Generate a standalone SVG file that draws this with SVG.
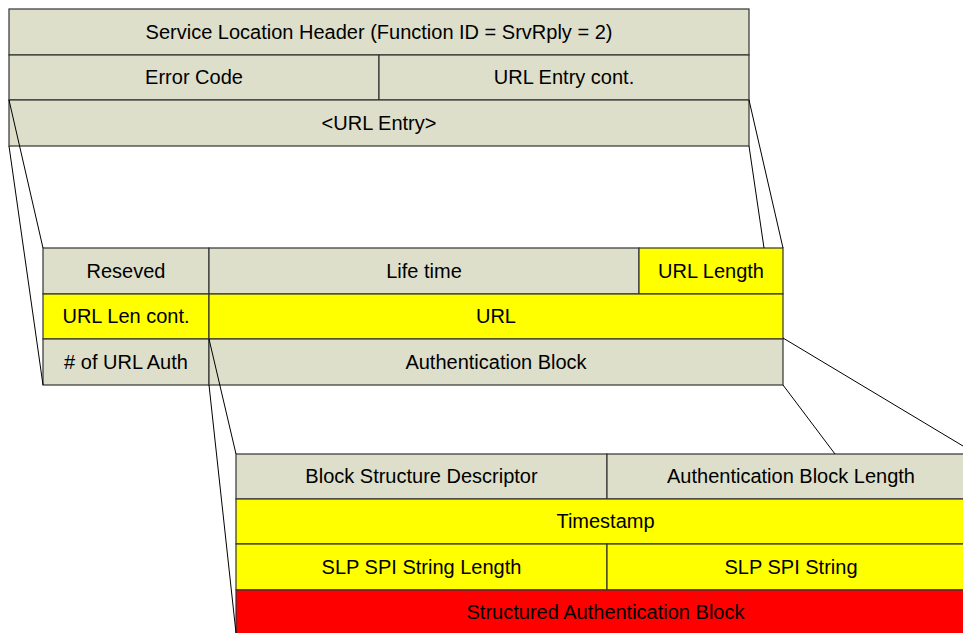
<svg xmlns="http://www.w3.org/2000/svg" width="963" height="633" viewBox="0 0 963 633">
<style>
.g{fill:#dddfcb;stroke:#333;stroke-width:1.2}
.y{fill:#ffff00;stroke:#333;stroke-width:1.2}
.r{fill:#ff0000;stroke:#333;stroke-width:1.2}
text{font-family:"Liberation Sans",Arial,sans-serif;font-size:20px;fill:#000;text-anchor:middle}
.c line{stroke:#000;stroke-width:1}
</style>
<rect width="963" height="633" fill="#fff"/>
<g id="top">
<rect class="g" x="9" y="9" width="740" height="46"/>
<rect class="g" x="9" y="55" width="370" height="45"/>
<rect class="g" x="379" y="55" width="370" height="45"/>
<rect class="g" x="9" y="100" width="740" height="46"/>
<text x="379" y="39">Service Location Header (Function ID = SrvRply = 2)</text>
<text x="194" y="84">Error Code</text>
<text x="564" y="84">URL Entry cont.</text>
<text x="379" y="130">&lt;URL Entry&gt;</text>
</g>
<g id="urlentry">
<rect class="g" x="43" y="248" width="166" height="46"/>
<rect class="g" x="209" y="248" width="430" height="46"/>
<rect class="y" x="639" y="248" width="144" height="46"/>
<rect class="y" x="43" y="294" width="166" height="45"/>
<rect class="y" x="209" y="294" width="574" height="45"/>
<rect class="g" x="43" y="339" width="166" height="46"/>
<rect class="g" x="209" y="339" width="574" height="46"/>
<text x="126" y="278">Reseved</text>
<text x="424" y="278">Life time</text>
<text x="711" y="278">URL Length</text>
<text x="126" y="323">URL Len cont.</text>
<text x="496" y="323">URL</text>
<text x="126" y="369"># of URL Auth</text>
<text x="496" y="369">Authentication Block</text>
</g>
<g id="authblock">
<rect class="g" x="236" y="454" width="371" height="45"/>
<rect class="g" x="607" y="454" width="368" height="45"/>
<rect class="y" x="236" y="499" width="739" height="45"/>
<rect class="y" x="236" y="544" width="371" height="46"/>
<rect class="y" x="607" y="544" width="368" height="46"/>
<rect class="r" x="236" y="590" width="739" height="46"/>
<text x="421.5" y="483">Block Structure Descriptor</text>
<text x="791" y="483">Authentication Block Length</text>
<text x="605.5" y="528">Timestamp</text>
<text x="421.5" y="574">SLP SPI String Length</text>
<text x="791" y="574">SLP SPI String</text>
<text x="605.5" y="619">Structured Authentication Block</text>
</g>
<g id="connectors" class="c">
<line x1="9" y1="100" x2="43" y2="248"/>
<line x1="9" y1="146" x2="43" y2="385"/>
<line x1="749" y1="100" x2="783" y2="248"/>
<line x1="749" y1="146" x2="764" y2="248"/>
<line x1="209" y1="339" x2="236" y2="454"/>
<line x1="209" y1="385" x2="236" y2="633"/>
<line x1="783" y1="338" x2="963" y2="446"/>
<line x1="783" y1="385" x2="835" y2="454"/>
</g>
</svg>
